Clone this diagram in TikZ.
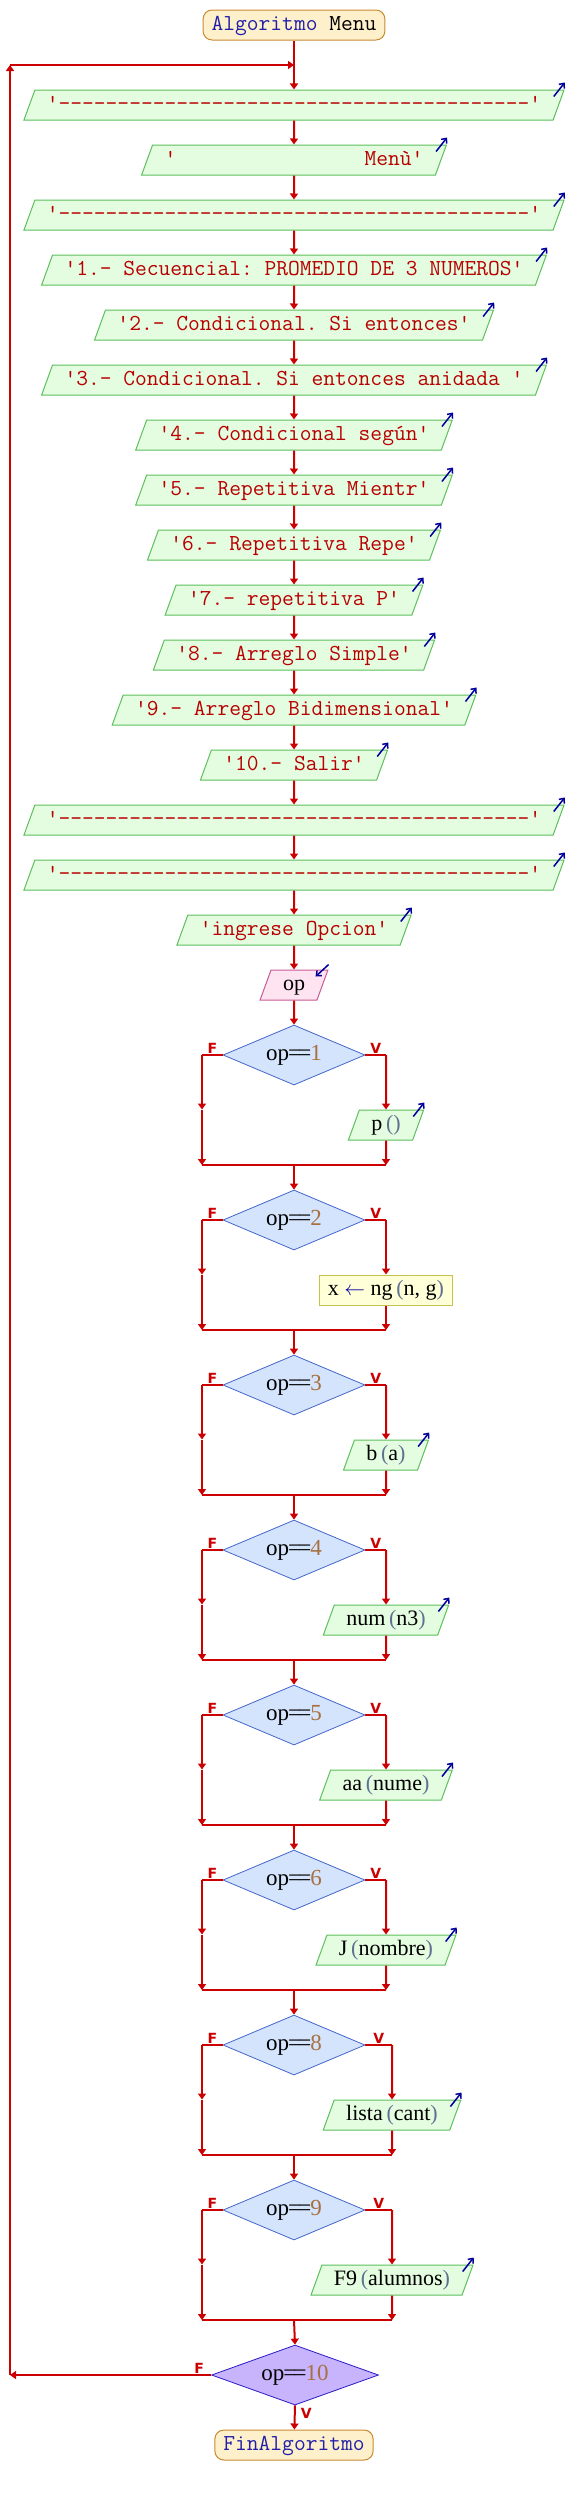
\documentclass[tikz,border=0pt]{standalone}
\usepackage{fontspec}
\setmainfont{Liberation Serif}
\setmonofont{Latin Modern Mono}[Ligatures=TeXOff]
\newfontfamily\flagfont{DejaVu Sans}
\usetikzlibrary{shapes.geometric,arrows.meta}

\definecolor{linered}{HTML}{CC0000}
\definecolor{txtred}{HTML}{B80000}
\definecolor{kwblue}{HTML}{2020A8}
\definecolor{iconblue}{HTML}{00009C}
\definecolor{outfill}{HTML}{E4FCE0}
\definecolor{outline}{HTML}{5CC05C}
\definecolor{infill}{HTML}{FDE4F0}
\definecolor{inline}{HTML}{C85A96}
\definecolor{condfill}{HTML}{D4E4FC}
\definecolor{condline}{HTML}{4466CC}
\definecolor{lastfill}{HTML}{C8B4FC}
\definecolor{lastline}{HTML}{2A1AC8}
\definecolor{asgfill}{HTML}{FFFFD8}
\definecolor{asgline}{HTML}{C8C050}
\definecolor{termfill}{HTML}{FFF0CC}
\definecolor{termline}{HTML}{C88A30}
\definecolor{parc}{HTML}{607090}
\definecolor{numc}{HTML}{A87040}

\newcommand{\codesize}{\fontsize{22.85}{26}\selectfont}
\newcommand{\varsize}{\fontsize{22}{25}\selectfont}
\newcommand{\args}[1]{\,{\color{parc}(}#1{\color{parc})}}
\newcommand{\opeq}[1]{op\kern-.04em=\kern-.12em=\kern-.04em{\color{numc}#1}}

\begin{document}
\begin{tikzpicture}[x=1pt,y=-1pt,
	flow/.style={draw=linered,line width=2pt,-{Triangle[width=8pt,length=6pt]}},
	wire/.style={draw=linered,line width=2pt},
	icon/.style={draw=iconblue,line width=1.5pt,-{Straight Barb[length=4pt,width=7pt]}},
	flag/.style={font=\flagfont\bfseries\fontsize{14}{14}\selectfont,text=linered,inner sep=1pt},
	outbox/.style={trapezium,trapezium left angle=70,trapezium right angle=110,draw=outline,fill=outfill,line width=1pt,inner xsep=12pt,inner ysep=6pt,text height=14pt,text depth=4pt,font=\ttfamily\codesize,text=txtred},
	callbox/.style={outbox,font=\varsize,text=black},
	inbox/.style={outbox,draw=inline,fill=infill,font=\varsize,text=black},
	asgbox/.style={rectangle,draw=asgline,fill=asgfill,line width=1pt,inner xsep=8pt,inner ysep=6pt,text height=14pt,text depth=4pt,font=\varsize},
	term/.style={rectangle,rounded corners=9pt,draw=termline,fill=termfill,line width=1pt,inner xsep=8.5pt,inner ysep=6pt,text height=14pt,text depth=4pt,font=\ttfamily\codesize,text=kwblue},
	cond/.style={diamond,aspect=2.4,draw=condline,fill=condfill,line width=0.8pt,minimum width=142pt,minimum height=60pt,inner sep=0pt,font=\fontsize{23}{26}\selectfont}
	]
	\useasboundingbox (0,0) rectangle (588,2495);

	% start and the menu texts
	\node[term] (start) at (294,25) {Algoritmo {\color{black}Menu}};
	\coordinate (loopin) at (294,65);
	\node[outbox] (b1) at (294,105) {'----------------------------------------'};
	\node[outbox] (b2) at (294,160) {'\phantom{xxxxxxxxxxxxxxxx}Menù'};
	\node[outbox] (b3) at (294,215) {'----------------------------------------'};
	\node[outbox] (b4) at (294,270) {'1.- Secuencial: PROMEDIO DE 3 NUMEROS'};
	\node[outbox] (b5) at (294,325) {'2.- Condicional. Si entonces'};
	\node[outbox] (b6) at (294,380) {'3.- Condicional. Si entonces anidada '};
	\node[outbox] (b7) at (294,435) {'4.- Condicional según'};
	\node[outbox] (b8) at (294,490) {'5.- Repetitiva Mientr'};
	\node[outbox] (b9) at (294,545) {'6.- Repetitiva Repe'};
	\node[outbox] (b10) at (294,600) {'7.- repetitiva P'};
	\node[outbox] (b11) at (294,655) {'8.- Arreglo Simple'};
	\node[outbox] (b12) at (294,710) {'9.- Arreglo Bidimensional'};
	\node[outbox] (b13) at (294,765) {'10.- Salir'};
	\node[outbox] (b14) at (294,820) {'----------------------------------------'};
	\node[outbox] (b15) at (294,875) {'----------------------------------------'};
	\node[outbox] (b16) at (294,930) {'ingrese Opcion'};
	\node[inbox] (rd) at (294,985) {op};

	\draw[flow] (start) -- (b1);
	\draw[flow] (b1) -- (b2);
	\draw[flow] (b2) -- (b3);
	\draw[flow] (b3) -- (b4);
	\draw[flow] (b4) -- (b5);
	\draw[flow] (b5) -- (b6);
	\draw[flow] (b6) -- (b7);
	\draw[flow] (b7) -- (b8);
	\draw[flow] (b8) -- (b9);
	\draw[flow] (b9) -- (b10);
	\draw[flow] (b10) -- (b11);
	\draw[flow] (b11) -- (b12);
	\draw[flow] (b12) -- (b13);
	\draw[flow] (b13) -- (b14);
	\draw[flow] (b14) -- (b15);
	\draw[flow] (b15) -- (b16);
	\draw[flow] (b16) -- (rd);

	% the choices
	\coordinate (lx) at (202,0);
	\node[cond] (c1) at (294,1055) {\opeq{1}};
	\node[cond] (c2) at (294,1220) {\opeq{2}};
	\node[cond] (c3) at (294,1385) {\opeq{3}};
	\node[cond] (c4) at (294,1550) {\opeq{4}};
	\node[cond] (c5) at (294,1715) {\opeq{5}};
	\node[cond] (c6) at (294,1880) {\opeq{6}};
	\node[cond] (c8) at (294,2045) {\opeq{8}};
	\node[cond] (c9) at (294,2210) {\opeq{9}};
	\node[cond,draw=lastline,fill=lastfill,minimum width=167pt] (c10) at (295,2375) {\opeq{10}};
	\node[term] (end) at (294,2445) {FinAlgoritmo};

	\node[callbox] (r1) at (386,1125) {p\args{}};
	\node[asgbox] (r2) at (386,1290) {x {\color{iconblue}$\leftarrow$} ng\args{n, g}};
	\node[callbox] (r3) at (386,1455) {b\args{a}};
	\node[callbox] (r4) at (386,1620) {num\args{n3}};
	\node[callbox] (r5) at (386,1785) {aa\args{nume}};
	\node[callbox] (r6) at (386,1950) {J\args{nombre}};
	\node[callbox] (r8) at (392,2115) {lista\args{cant}};
	\node[callbox] (r9) at (392,2280) {F9\args{alumnos}};

	\coordinate (j1) at (294,1165);
	\coordinate (j2) at (294,1330);
	\coordinate (j3) at (294,1495);
	\coordinate (j4) at (294,1660);
	\coordinate (j5) at (294,1825);
	\coordinate (j6) at (294,1990);
	\coordinate (j8) at (294,2155);
	\coordinate (j9) at (294,2320);

	\draw[flow] (rd) -- (c1);
	% op==1
	\draw[wire] (c1.west) -- node[flag,above] {F} (c1.west -| lx);
	\draw[flow] (c1.west -| lx) -- (r1.north -| lx);
	\draw[flow] (r1.north -| lx) -- (j1 -| lx);
	\draw[wire] (c1.east) -- node[flag,above] {V} (c1.east -| r1);
	\draw[flow] (c1.east -| r1) -- (r1.north);
	\draw[flow] (r1.south) -- (j1 -| r1);
	\draw[wire] (j1 -| lx) -- (j1 -| r1);
	\draw[flow] (j1) -- (c2.north);
	% op==2
	\draw[wire] (c2.west) -- node[flag,above] {F} (c2.west -| lx);
	\draw[flow] (c2.west -| lx) -- (r2.north -| lx);
	\draw[flow] (r2.north -| lx) -- (j2 -| lx);
	\draw[wire] (c2.east) -- node[flag,above] {V} (c2.east -| r2);
	\draw[flow] (c2.east -| r2) -- (r2.north);
	\draw[flow] (r2.south) -- (j2 -| r2);
	\draw[wire] (j2 -| lx) -- (j2 -| r2);
	\draw[flow] (j2) -- (c3.north);
	% op==3
	\draw[wire] (c3.west) -- node[flag,above] {F} (c3.west -| lx);
	\draw[flow] (c3.west -| lx) -- (r3.north -| lx);
	\draw[flow] (r3.north -| lx) -- (j3 -| lx);
	\draw[wire] (c3.east) -- node[flag,above] {V} (c3.east -| r3);
	\draw[flow] (c3.east -| r3) -- (r3.north);
	\draw[flow] (r3.south) -- (j3 -| r3);
	\draw[wire] (j3 -| lx) -- (j3 -| r3);
	\draw[flow] (j3) -- (c4.north);
	% op==4
	\draw[wire] (c4.west) -- node[flag,above] {F} (c4.west -| lx);
	\draw[flow] (c4.west -| lx) -- (r4.north -| lx);
	\draw[flow] (r4.north -| lx) -- (j4 -| lx);
	\draw[wire] (c4.east) -- node[flag,above] {V} (c4.east -| r4);
	\draw[flow] (c4.east -| r4) -- (r4.north);
	\draw[flow] (r4.south) -- (j4 -| r4);
	\draw[wire] (j4 -| lx) -- (j4 -| r4);
	\draw[flow] (j4) -- (c5.north);
	% op==5
	\draw[wire] (c5.west) -- node[flag,above] {F} (c5.west -| lx);
	\draw[flow] (c5.west -| lx) -- (r5.north -| lx);
	\draw[flow] (r5.north -| lx) -- (j5 -| lx);
	\draw[wire] (c5.east) -- node[flag,above] {V} (c5.east -| r5);
	\draw[flow] (c5.east -| r5) -- (r5.north);
	\draw[flow] (r5.south) -- (j5 -| r5);
	\draw[wire] (j5 -| lx) -- (j5 -| r5);
	\draw[flow] (j5) -- (c6.north);
	% op==6
	\draw[wire] (c6.west) -- node[flag,above] {F} (c6.west -| lx);
	\draw[flow] (c6.west -| lx) -- (r6.north -| lx);
	\draw[flow] (r6.north -| lx) -- (j6 -| lx);
	\draw[wire] (c6.east) -- node[flag,above] {V} (c6.east -| r6);
	\draw[flow] (c6.east -| r6) -- (r6.north);
	\draw[flow] (r6.south) -- (j6 -| r6);
	\draw[wire] (j6 -| lx) -- (j6 -| r6);
	\draw[flow] (j6) -- (c8.north);
	% op==8
	\draw[wire] (c8.west) -- node[flag,above] {F} (c8.west -| lx);
	\draw[flow] (c8.west -| lx) -- (r8.north -| lx);
	\draw[flow] (r8.north -| lx) -- (j8 -| lx);
	\draw[wire] (c8.east) -- node[flag,above] {V} (c8.east -| r8);
	\draw[flow] (c8.east -| r8) -- (r8.north);
	\draw[flow] (r8.south) -- (j8 -| r8);
	\draw[wire] (j8 -| lx) -- (j8 -| r8);
	\draw[flow] (j8) -- (c9.north);
	% op==9
	\draw[wire] (c9.west) -- node[flag,above] {F} (c9.west -| lx);
	\draw[flow] (c9.west -| lx) -- (r9.north -| lx);
	\draw[flow] (r9.north -| lx) -- (j9 -| lx);
	\draw[wire] (c9.east) -- node[flag,above] {V} (c9.east -| r9);
	\draw[flow] (c9.east -| r9) -- (r9.north);
	\draw[flow] (r9.south) -- (j9 -| r9);
	\draw[wire] (j9 -| lx) -- (j9 -| r9);
	\draw[flow] (j9) -- (c10.north);

	% loop back and end
	\coordinate (back) at (10,2375);
	\draw[flow] (c10.west) -- node[flag,above,pos=0.06] {F} (back);
	\draw[flow] (back) -- (back |- loopin);
	\draw[flow] (back |- loopin) -- (loopin);
	\draw[flow] (c10.south) -- node[flag,right,xshift=4pt,pos=0.35] {V} (end);

	% output and input marks
	\draw[icon] ([shift={(-11,7)}]b1.top right corner) -- ([shift={(0,-7)}]b1.top right corner);
	\draw[icon] ([shift={(-11,7)}]b2.top right corner) -- ([shift={(0,-7)}]b2.top right corner);
	\draw[icon] ([shift={(-11,7)}]b3.top right corner) -- ([shift={(0,-7)}]b3.top right corner);
	\draw[icon] ([shift={(-11,7)}]b4.top right corner) -- ([shift={(0,-7)}]b4.top right corner);
	\draw[icon] ([shift={(-11,7)}]b5.top right corner) -- ([shift={(0,-7)}]b5.top right corner);
	\draw[icon] ([shift={(-11,7)}]b6.top right corner) -- ([shift={(0,-7)}]b6.top right corner);
	\draw[icon] ([shift={(-11,7)}]b7.top right corner) -- ([shift={(0,-7)}]b7.top right corner);
	\draw[icon] ([shift={(-11,7)}]b8.top right corner) -- ([shift={(0,-7)}]b8.top right corner);
	\draw[icon] ([shift={(-11,7)}]b9.top right corner) -- ([shift={(0,-7)}]b9.top right corner);
	\draw[icon] ([shift={(-11,7)}]b10.top right corner) -- ([shift={(0,-7)}]b10.top right corner);
	\draw[icon] ([shift={(-11,7)}]b11.top right corner) -- ([shift={(0,-7)}]b11.top right corner);
	\draw[icon] ([shift={(-11,7)}]b12.top right corner) -- ([shift={(0,-7)}]b12.top right corner);
	\draw[icon] ([shift={(-11,7)}]b13.top right corner) -- ([shift={(0,-7)}]b13.top right corner);
	\draw[icon] ([shift={(-11,7)}]b14.top right corner) -- ([shift={(0,-7)}]b14.top right corner);
	\draw[icon] ([shift={(-11,7)}]b15.top right corner) -- ([shift={(0,-7)}]b15.top right corner);
	\draw[icon] ([shift={(-11,7)}]b16.top right corner) -- ([shift={(0,-7)}]b16.top right corner);
	\draw[icon] ([shift={(-11,7)}]r1.top right corner) -- ([shift={(0,-7)}]r1.top right corner);
	\draw[icon] ([shift={(-11,7)}]r3.top right corner) -- ([shift={(0,-7)}]r3.top right corner);
	\draw[icon] ([shift={(-11,7)}]r4.top right corner) -- ([shift={(0,-7)}]r4.top right corner);
	\draw[icon] ([shift={(-11,7)}]r5.top right corner) -- ([shift={(0,-7)}]r5.top right corner);
	\draw[icon] ([shift={(-11,7)}]r6.top right corner) -- ([shift={(0,-7)}]r6.top right corner);
	\draw[icon] ([shift={(-11,7)}]r8.top right corner) -- ([shift={(0,-7)}]r8.top right corner);
	\draw[icon] ([shift={(-11,7)}]r9.top right corner) -- ([shift={(0,-7)}]r9.top right corner);
	\draw[icon] ([shift={(0,-5)}]rd.top right corner) -- ([shift={(-13,7)}]rd.top right corner);

\end{tikzpicture}
\end{document}
